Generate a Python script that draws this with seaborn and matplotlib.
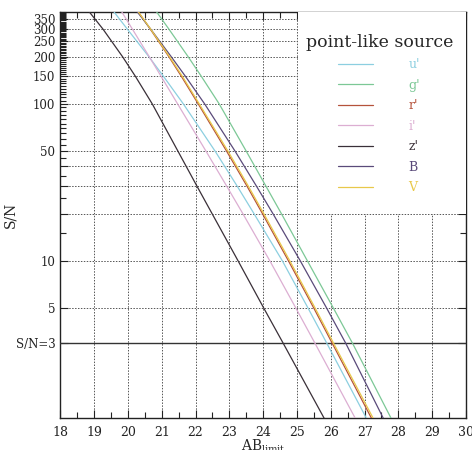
import matplotlib
matplotlib.use("Agg")
import matplotlib.pyplot as plt
import matplotlib.ticker as mticker
from matplotlib.patches import Rectangle
import pandas as pd
import seaborn as sns

sn_levels = [385, 300, 200, 150, 100, 50, 30, 20, 10, 5, 3, 1]

# AB magnitude of each band at those S/N levels
mag_u = [19.59, 19.98, 20.62, 21.05, 21.64, 22.58, 23.23, 23.73, 24.57, 25.33, 25.88, 27.05]
mag_g = [20.85, 21.21, 21.78, 22.17, 22.70, 23.50, 24.08, 24.54, 25.31, 26.08, 26.64, 27.78]
mag_r = [20.31, 20.66, 21.21, 21.58, 22.08, 22.92, 23.52, 23.98, 24.75, 25.50, 26.04, 27.20]
mag_i = [19.82, 20.13, 20.63, 20.98, 21.47, 22.31, 22.92, 23.40, 24.20, 24.97, 25.53, 26.72]
mag_z = [18.86, 19.26, 19.84, 20.22, 20.72, 21.48, 22.04, 22.49, 23.26, 24.02, 24.59, 25.80]
mag_B = [20.28, 20.67, 21.28, 21.70, 22.27, 23.17, 23.80, 24.29, 25.10, 25.88, 26.44, 27.55]
mag_V = [20.31, 20.67, 21.23, 21.61, 22.11, 22.96, 23.56, 24.02, 24.79, 25.54, 26.08, 27.25]

bands = ["u'", "g'", "r'", "i'", "z'", "B", "V"]
band_mags = [mag_u, mag_g, mag_r, mag_i, mag_z, mag_B, mag_V]
line_colors = ["#8ccfe0", "#7cc896", "#b5523b", "#dcaed2", "#3a3038", "#5a4a7a", "#e8c84a"]

# tick labels
x_ticks = list(range(18, 31))
y_ticks = [3, 5, 10, 20, 30, 40, 50, 100, 150, 200, 250, 300, 350]
y_labels = ["S/N=3", "5", "10", "", "", "", "50", "100", "150", "200", "250", "300", "350"]

rows = []
for band, mags in zip(bands, band_mags):
    for sn, m in zip(sn_levels, mags):
        rows.append({"band": band, "mag": m, "sn": sn})
df = pd.DataFrame(rows)

sns.set_theme(style="ticks")
plt.rcParams["font.family"] = ["DejaVu Serif"]
plt.rcParams["mathtext.fontset"] = "dejavuserif"

fig = plt.figure(figsize=(4.72, 4.5), dpi=100)
ax = fig.add_axes([0.1278, 0.0711, 0.8595, 0.9022])

for band, color in zip(bands, line_colors):
    sns.lineplot(data=df[df["band"] == band], x="mag", y="sn", color=color,
                 linewidth=0.9, sort=False, estimator=None, label=band, ax=ax, zorder=4)

ax.set_yscale("log")
ax.set_xlim(18, 30)
ax.set_ylim(1, 385)

ax.set_xticks(x_ticks)
ax.set_xticklabels([str(t) for t in x_ticks])
ax.xaxis.set_minor_locator(mticker.MultipleLocator(0.5))
ax.yaxis.set_major_locator(mticker.FixedLocator(y_ticks))
ax.yaxis.set_major_formatter(mticker.FixedFormatter(y_labels))
minor_y = [v for v in range(15, 386, 5) if v not in y_ticks]
ax.yaxis.set_minor_locator(mticker.FixedLocator(minor_y))
ax.yaxis.set_minor_formatter(mticker.NullFormatter())

ax.tick_params(which="both", direction="in", top=True, right=True, labelsize=9, colors="#222222")
ax.tick_params(axis="y", labelsize=8.5)
ax.tick_params(which="major", length=6, width=0.8)
ax.tick_params(which="minor", length=4, width=0.8)
ax.tick_params(axis="x", pad=6)

ax.grid(True, which="major", linestyle=(0, (1.5, 1.5)), color="#555555", linewidth=0.7)
ax.set_axisbelow(True)
ax.axhline(3, color="#333333", linewidth=1.0, zorder=3)

for side in ax.spines.values():
    side.set_linewidth(1.0)
    side.set_color("#222222")

ax.set_xlabel(r"AB$_{\rm limit}$", fontsize=10, labelpad=-1)
ax.set_ylabel("S/N", fontsize=10)
ax.yaxis.set_label_coords(-0.105, 0.5)

# white box behind the legend
ax.add_patch(Rectangle((0.586, 0.502), 0.414, 0.498, transform=ax.transAxes,
                       facecolor="white", edgecolor="none", zorder=3))

leg = ax.legend(title="point-like source", loc="upper center", bbox_to_anchor=(0.786, 0.962),
                frameon=False, fontsize=9, title_fontsize=12.5, handlelength=2.8,
                handletextpad=2.8, labelspacing=0.6, borderpad=0, labelcolor="linecolor")
leg.set_zorder(6)
for text, color in zip(leg.get_texts(), line_colors):
    text.set_color(color)

fig.savefig("out.png", dpi=100)
